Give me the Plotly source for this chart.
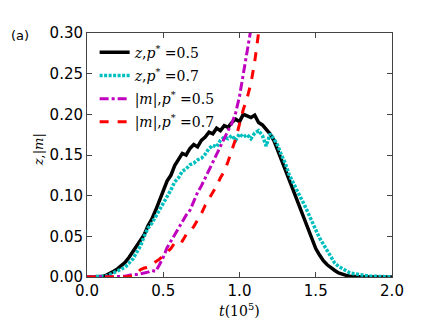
import plotly.graph_objects as go

# time in units of 1e5
t_z = [i * 0.025 for i in range(81)]

z_p05 = [0, 0, 0, 0, 0.0005, 0.002, 0.004, 0.007, 0.010, 0.014,
         0.018, 0.024, 0.031, 0.038, 0.045, 0.052, 0.063, 0.071, 0.082, 0.093,
         0.106, 0.118, 0.125, 0.137, 0.145, 0.152, 0.150, 0.158, 0.163, 0.160,
         0.168, 0.172, 0.178, 0.176, 0.183, 0.180, 0.186, 0.184, 0.190, 0.194,
         0.191, 0.200, 0.198, 0.196, 0.199, 0.190, 0.187, 0.181, 0.176, 0.168,
         0.157, 0.144, 0.132, 0.120, 0.108, 0.096, 0.083, 0.070, 0.058, 0.046,
         0.035, 0.027, 0.020, 0.015, 0.011, 0.008, 0.005, 0.003, 0.002, 0.001,
         0.0005, 0.0003, 0, 0, 0, 0, 0, 0, 0, 0, 0]

z_p07 = [0, 0, 0, 0, 0.0005, 0.001, 0.003, 0.005, 0.007, 0.009,
         0.012, 0.017, 0.022, 0.030, 0.038, 0.050, 0.060, 0.066, 0.074, 0.083,
         0.090, 0.099, 0.107, 0.117, 0.122, 0.130, 0.133, 0.138, 0.140, 0.144,
         0.146, 0.151, 0.158, 0.162, 0.160, 0.168, 0.172, 0.170, 0.174, 0.168,
         0.176, 0.172, 0.175, 0.170, 0.177, 0.180, 0.174, 0.161, 0.176, 0.170,
         0.162, 0.150, 0.140, 0.126, 0.116, 0.106, 0.098, 0.089, 0.078, 0.068,
         0.058, 0.048, 0.040, 0.031, 0.023, 0.017, 0.013, 0.010, 0.007, 0.005,
         0.004, 0.003, 0.002, 0.0015, 0.001, 0.001, 0.0008, 0.0005, 0.0005, 0.0003, 0.0002]

t_m05 = [0, 0.05, 0.1, 0.15, 0.2, 0.25, 0.275, 0.3, 0.325, 0.35,
         0.375, 0.4, 0.425, 0.45, 0.475, 0.5, 0.525, 0.55, 0.575, 0.6,
         0.625, 0.65, 0.675, 0.7, 0.725, 0.75, 0.775, 0.8, 0.825, 0.85,
         0.875, 0.9, 0.925, 0.95, 0.975, 1.0, 1.025, 1.05, 1.075]
m_p05 = [0, 0, 0, 0, 0.0005, 0.001, 0.002, 0.003, 0.003, 0.004,
         0.005, 0.006, 0.008, 0.007, 0.015, 0.024, 0.036, 0.044, 0.052, 0.060,
         0.068, 0.076, 0.082, 0.094, 0.104, 0.112, 0.122, 0.130, 0.140, 0.150,
         0.162, 0.170, 0.180, 0.189, 0.202, 0.222, 0.248, 0.275, 0.305]

t_m07 = [0, 0.1, 0.2, 0.25, 0.3, 0.325, 0.35, 0.375, 0.4, 0.425,
         0.45, 0.475, 0.5, 0.525, 0.55, 0.575, 0.6, 0.625, 0.65, 0.675,
         0.7, 0.725, 0.75, 0.775, 0.8, 0.825, 0.85, 0.875, 0.9, 0.925,
         0.95, 0.975, 1.0, 1.025, 1.05, 1.075, 1.1, 1.125, 1.15]
m_p07 = [0, 0, 0, 0, 0.001, 0.004, 0.009, 0.011, 0.012, 0.015,
         0.018, 0.022, 0.026, 0.031, 0.035, 0.042, 0.046, 0.044, 0.052, 0.056,
         0.062, 0.070, 0.078, 0.088, 0.096, 0.104, 0.112, 0.122, 0.130, 0.142,
         0.156, 0.170, 0.188, 0.206, 0.220, 0.238, 0.265, 0.300, 0.320]

x_ticks = [0.0, 0.5, 1.0, 1.5, 2.0]
y_ticks = [0.00, 0.05, 0.10, 0.15, 0.20, 0.25, 0.30]

SERIF = "DejaVu Serif, serif"
SANS = "DejaVu Sans, sans-serif"

fig = go.Figure()
fig.add_trace(go.Scatter(x=t_z, y=z_p05, mode="lines", name="<i>z</i>,<i>p</i><sup>*</sup> =0.5",
                         legendgroup="a", line=dict(color="black", width=3.5)))
fig.add_trace(go.Scatter(x=t_z, y=z_p07, mode="lines", name="<i>z</i>,<i>p</i><sup>*</sup> =0.7",
                         legendgroup="b", line=dict(color="#00BFBF", width=3.5, dash="3px,1.5px")))
fig.add_trace(go.Scatter(x=t_m05, y=m_p05, mode="lines", name="|<i>m</i>|,<i>p</i><sup>*</sup> =0.5",
                         legendgroup="c", line=dict(color="#BF00BF", width=3, dash="dashdot")))
fig.add_trace(go.Scatter(x=t_m07, y=m_p07, mode="lines", name="|<i>m</i>|,<i>p</i><sup>*</sup> =0.7",
                         legendgroup="d", line=dict(color="#FF0000", width=3, dash="dash")))

axis_common = dict(showgrid=False, zeroline=False, showline=True, linecolor="#444", linewidth=1,
                   mirror="ticks", ticks="inside", ticklen=5, tickcolor="#444", automargin=False,
                   tickfont=dict(family=SANS, size=15, color="black"))
fig.update_xaxes(range=[0, 2.0], tickvals=x_ticks, tickformat=".1f", **axis_common)
fig.update_yaxes(range=[0, 0.30], tickvals=y_ticks, tickformat=".2f", **axis_common)

# axis titles and panel label placed as annotations for exact positioning
fig.add_annotation(text="<i>t</i>(10<sup>5</sup>)", xref="paper", yref="paper", x=0.5, y=-0.135,
                   xanchor="center", yanchor="middle", showarrow=False,
                   font=dict(family=SERIF, size=14, color="black"))
fig.add_annotation(text="<i>z</i>,|<i>m</i>|", xref="paper", yref="paper", x=-0.16, y=0.52,
                   xanchor="center", yanchor="middle", textangle=-90, showarrow=False,
                   font=dict(family=SERIF, size=13, color="black"))
fig.add_annotation(text="(a)", xref="paper", yref="paper", x=-0.257, y=0.99, xanchor="left", yanchor="middle",
                   showarrow=False, font=dict(family=SANS, size=13, color="black"))

# page body has an 8px margin, so shrink the figure to keep the plot box where the reference has it
fig.update_layout(
    width=428, height=319,
    margin=dict(l=79, r=44, t=25, b=50),
    plot_bgcolor="white", paper_bgcolor="white",
    legend=dict(x=0.025, y=0.985, xanchor="left", yanchor="top", bgcolor="rgba(0,0,0,0)",
                font=dict(family=SERIF, size=14, color="black"), itemwidth=30, tracegroupgap=2),
)

fig.write_html("out.html")
